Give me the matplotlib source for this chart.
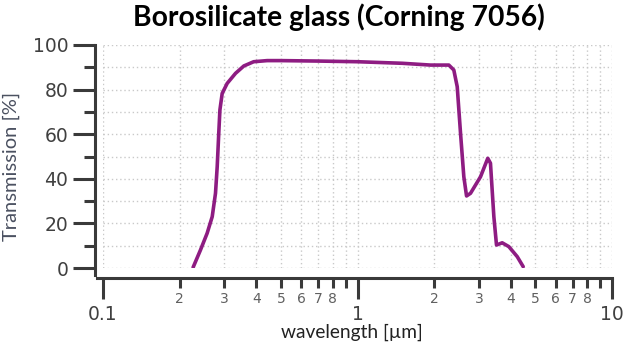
import numpy as np
import matplotlib
matplotlib.use("Agg")
import matplotlib.pyplot as plt
from matplotlib.ticker import FixedLocator

# transmission curve
wavelength = [0.226, 0.2416, 0.2566, 0.2686, 0.2767, 0.281, 0.285, 0.288,
              0.294, 0.3076, 0.3317, 0.3576, 0.391, 0.4417, 0.498, 0.70,
              1.00, 1.50, 1.936, 2.285, 2.39, 2.465, 2.54, 2.617, 2.682,
              2.78, 3.043, 3.25, 3.33, 3.434, 3.517, 3.703, 3.931, 4.242,
              4.478]
transmission = [0.3, 8.1, 15.6, 23.0, 33.5, 45.4, 60.4, 70.9,
                78.3, 82.8, 87.3, 90.6, 92.5, 93.0, 93.0, 92.8,
                92.5, 91.8, 91.0, 91.0, 88.8, 81.3, 60.4, 40.9, 32.3,
                33.5, 40.9, 49.2, 47.0, 23.0, 10.3, 11.3, 9.6, 5.1,
                0.6]

major_x = [0.1, 1, 10]
major_x_labels = ["0.1", "1", "10"]
minor_x = [0.2, 0.3, 0.4, 0.5, 0.6, 0.7, 0.8, 0.9,
           2, 3, 4, 5, 6, 7, 8, 9]
minor_x_labels = ["2", "3", "4", "5", "6", "7", "8", "",
                  "2", "3", "4", "5", "6", "7", "8", ""]

line_col = "#8e1c82"
tick_col = "#3a3a3a"
grid_col = "#c9c9c9"

fig = plt.figure(figsize=(6.26, 3.47), dpi=100)
ax = fig.add_axes([103 / 626, 79 / 347, 509 / 626, 223 / 347])

ax.plot(wavelength, transmission, color=line_col, lw=2.6,
        solid_joinstyle="round", solid_capstyle="round", zorder=3)

ax.set_xscale("log")
ax.set_xlim(0.1, 10)
ax.set_ylim(0, 100)

# axis ticks
ax.xaxis.set_major_locator(FixedLocator(major_x))
ax.set_xticklabels(major_x_labels, family="Liberation Sans")
ax.xaxis.set_minor_locator(FixedLocator(minor_x))
ax.set_xticklabels(minor_x_labels, minor=True, family="Liberation Sans")
ax.set_yticks(np.arange(0, 101, 20))
ax.set_yticklabels([str(v) for v in range(0, 101, 20)], family="Liberation Sans")
ax.set_yticks(np.arange(10, 100, 20), minor=True)

ax.tick_params(axis="x", which="major", length=15, width=2.2, color=tick_col,
               labelcolor="#404040", labelsize=13.5, pad=5)
ax.tick_params(axis="x", which="minor", length=7, width=2.2, color=tick_col,
               labelcolor="#606060", labelsize=10, pad=3)
ax.tick_params(axis="y", which="major", length=16, width=2.2, color=tick_col,
               labelcolor="#404040", labelsize=13.5, pad=3)
ax.tick_params(axis="y", which="minor", length=8, width=2.2, color=tick_col)

# grid
ax.grid(True, which="both", color=grid_col, ls=(0, (1, 2)), lw=1.0)
ax.set_axisbelow(True)

# spines pushed outward
for s in ["top", "right"]:
    ax.spines[s].set_visible(False)
ax.spines["left"].set_position(("outward", 6))
ax.spines["bottom"].set_position(("outward", 7))
ax.spines["left"].set_bounds(-3.2, 100)
ax.spines["bottom"].set_bounds(0.0947, 10)
for s in ["left", "bottom"]:
    ax.spines[s].set_linewidth(2.2)
    ax.spines[s].set_color(tick_col)

ax.set_xlabel("wavelength [\u00b5m]", fontsize=13.8, family="Lato", color="#222222")
ax.xaxis.set_label_coords(0.488, -0.25)
ax.set_ylabel("Transmission [%]", fontsize=14.5, family="Lato", color="#4a5060")
ax.yaxis.set_label_coords(-0.163, 0.455)
fig.suptitle("Borosilicate glass (Corning 7056)", x=0.541, y=0.99,
             fontsize=20.3, fontweight="bold", family="Lato")

fig.savefig("out.png", dpi=100)
